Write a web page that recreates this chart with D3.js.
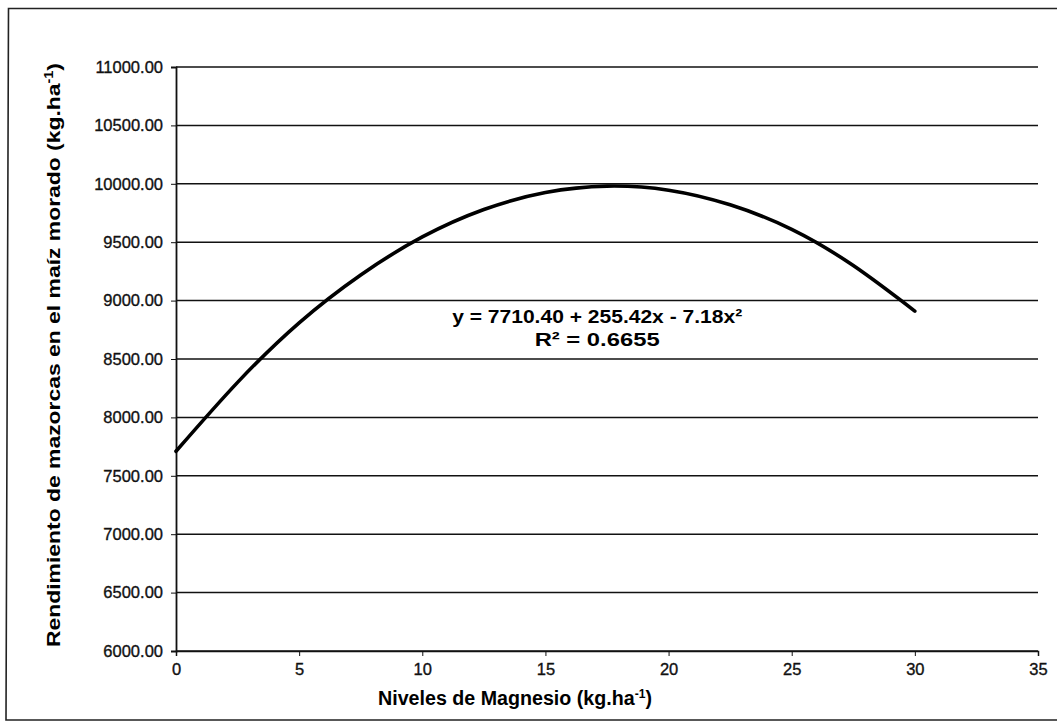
<!DOCTYPE html>
<html>
<head>
<meta charset="utf-8">
<script src="https://cdn.jsdelivr.net/npm/d3@7"></script>
<style>
  body { margin: 0; background: #fff; }
  svg { display: block; font-family: "Liberation Sans", Arial, sans-serif; }
  .axis text { font-size: 16.5px; fill: #111; stroke: #111; stroke-width: 0.35px; }
  .axis path, .axis line { stroke: #111; }
</style>
</head>
<body>
<div id="chart"></div>
<script>
// values
var magnesio = [0, 2.5, 5, 7.5, 10, 12.5, 15, 17.5, 20, 22.5, 25, 27.5, 30];
var rendimiento = [7710, 8300, 8810, 9220, 9545, 9780, 9925, 9980, 9945, 9820, 9610, 9300, 8910];

var xTicks = [0, 5, 10, 15, 20, 25, 30, 35];
var yTicks = [6000, 6500, 7000, 7500, 8000, 8500, 9000, 9500, 10000, 10500, 11000];

var ecuacion = ["y = 7710.40 + 255.42x - 7.18x\u00B2", "R\u00B2 = 0.6655"];
var ecuacionAncho = [290, 125];

var W = 1057, H = 723;
var margin = {top: 67, right: 19, bottom: 72, left: 176};
var w = W - margin.left - margin.right,
    h = H - margin.top - margin.bottom;

var x = d3.scaleLinear().domain([0, 35]).range([0, 862]),
    y = d3.scaleLinear().domain([6000, 11000]).range([h, 0]);

var svg = d3.select("#chart").append("svg")
    .attr("width", W)
    .attr("height", H);

// outer frame (right side is cut off in the original)
svg.append("path")
    .attr("d", "M1057,8.5 L8.5,8.5 L6,720 L1057,720")
    .attr("fill", "none")
    .attr("stroke", "#222")
    .attr("stroke-width", 1.6);

var g = svg.append("g")
    .attr("transform", "translate(" + margin.left + "," + margin.top + ")");

// grid lines
g.append("g")
    .selectAll("line")
    .data(yTicks)
    .enter().append("line")
    .attr("x1", 0)
    .attr("x2", x(35))
    .attr("y1", function(d) { return y(d); })
    .attr("y2", function(d) { return y(d); })
    .attr("stroke", "#111")
    .attr("stroke-width", 1.5);

var yAxis = d3.axisLeft(y).tickValues(yTicks).tickSize(5).tickPadding(8)
    .tickFormat(d3.format(".2f"));
var xAxis = d3.axisBottom(x).tickValues(xTicks).tickSize(5).tickPadding(7);

g.append("g")
    .attr("class", "axis")
    .call(yAxis)
    .call(function(s) { s.select(".domain").attr("stroke-width", 1.8); });

g.append("g")
    .attr("class", "axis")
    .attr("transform", "translate(0," + h + ")")
    .call(xAxis)
    .call(function(s) { s.select(".domain").attr("stroke-width", 1.5); });

// trend line
var line = d3.line()
    .x(function(d, i) { return x(magnesio[i]); })
    .y(function(d) { return y(d); })
    .curve(d3.curveNatural);

g.append("path")
    .datum(rendimiento)
    .attr("d", line)
    .attr("fill", "none")
    .attr("stroke", "#000")
    .attr("stroke-width", 3.6)
    .attr("stroke-linecap", "round");

// equation
g.selectAll(".eq")
    .data(ecuacion)
    .enter().append("text")
    .attr("class", "eq")
    .attr("text-anchor", "middle")
    .attr("x", x(17.1))
    .attr("y", function(d, i) { return y(8810) + i * 23; })
    .attr("textLength", function(d, i) { return ecuacionAncho[i]; })
    .attr("lengthAdjust", "spacingAndGlyphs")
    .style("font-size", "19px")
    .style("font-weight", "bold")
    .text(function(d) { return d; });

// axis titles
svg.append("text")
    .attr("text-anchor", "middle")
    .attr("x", 515)
    .attr("y", 705)
    .attr("textLength", 274)
    .attr("lengthAdjust", "spacingAndGlyphs")
    .style("font-size", "19.5px")
    .style("font-weight", "bold")
    .html("Niveles de Magnesio (kg.ha<tspan dy='-7' font-size='12px'>-1</tspan><tspan dy='7'>)</tspan>");

svg.append("text")
    .attr("text-anchor", "middle")
    .attr("transform", "translate(60,355) rotate(-90)")
    .attr("textLength", 584)
    .attr("lengthAdjust", "spacingAndGlyphs")
    .style("font-size", "19px")
    .style("font-weight", "bold")
    .html("Rendimiento de mazorcas en el maíz morado (kg.ha<tspan dy='-7' font-size='12px'>-1</tspan><tspan dy='7'>)</tspan>");
</script>
</body>
</html>
